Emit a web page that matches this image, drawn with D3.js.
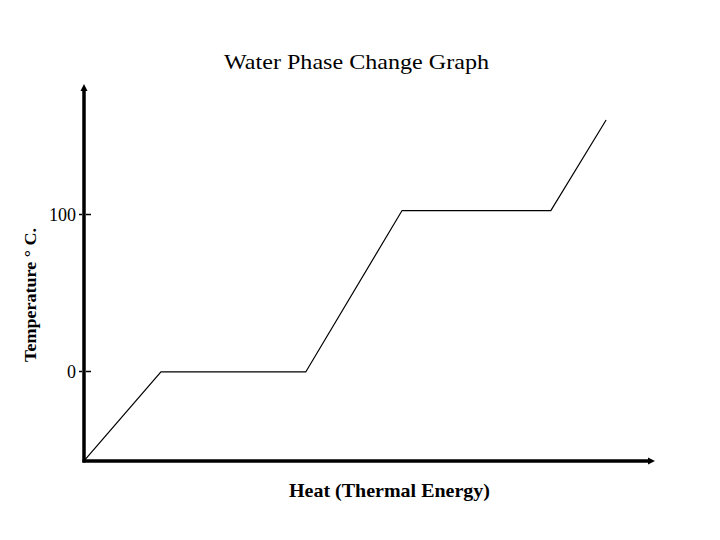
<!DOCTYPE html>
<html><head><meta charset="utf-8">
<script src="https://cdn.jsdelivr.net/npm/d3@7"></script>
<style>body{margin:0;background:#fff}</style>
</head><body>
<script>
const title = "Water Phase Change Graph";
const xLabel = "Heat (Thermal Energy)";
const yLabel = "Temperature ° C.";
const heat = [0, 13.5, 38.9, 55.8, 81.9, 91.6];
const temperature = [-57.3, -0.6, -0.6, 102.2, 102.2, 159.9];
const yTicks = [0, 100];

const W = 720, H = 540;
const serif = "Liberation Serif, Times New Roman, serif";
const svg = d3.select("body").append("svg").attr("width", W).attr("height", H);
const ox = 84, oy = 461;
const x = d3.scaleLinear().domain([0, 100]).range([ox, 654]);
const y = d3.scaleLinear().domain([0, 100]).range([371, 214]);

svg.append("text").attr("x",356.5).attr("y",69).attr("text-anchor","middle")
  .attr("font-family",serif).attr("font-size",22)
  .attr("textLength",265).attr("lengthAdjust","spacingAndGlyphs").text(title);

// data line
const pts = heat.map((h,i)=>[h, temperature[i]]);
svg.append("path").datum(pts)
  .attr("d", d3.line().x(d=>x(d[0])).y(d=>y(d[1])))
  .attr("fill","none").attr("stroke","#000").attr("stroke-width",1.2);

// axes
svg.append("line").attr("x1",ox).attr("y1",oy+1.5).attr("x2",ox).attr("y2",90)
  .attr("stroke","#000").attr("stroke-width",3.5);
svg.append("path").attr("d",`M${ox},84L${ox+3.5},91L${ox-3.5},91Z`).attr("fill","#000");
svg.append("line").attr("x1",ox-1.5).attr("y1",oy).attr("x2",648).attr("y2",oy)
  .attr("stroke","#000").attr("stroke-width",3.5);
svg.append("path").attr("d",`M655,${oy}L648,${oy-3.5}L648,${oy+3.5}Z`).attr("fill","#000");

const ax = svg.append("g").attr("transform",`translate(${ox},0)`)
  .call(d3.axisLeft(y).tickValues(yTicks).tickSize(-13).tickPadding(8).tickFormat(d3.format("d")));
ax.select(".domain").remove();
ax.selectAll(".tick line").attr("stroke-dasharray","3,4,5,10").attr("stroke-width",1.5).attr("transform","translate(-5,0)");
ax.selectAll(".tick text").attr("font-family",serif)
  .attr("font-size",18).attr("fill","#000").attr("dy","0.35em");

svg.append("text").attr("x",389.5).attr("y",497).attr("text-anchor","middle")
  .attr("font-family",serif).attr("font-weight","bold")
  .attr("font-size",19).attr("textLength",201).attr("lengthAdjust","spacingAndGlyphs").text(xLabel);
svg.append("text").attr("transform","translate(36,295) rotate(-90)").attr("text-anchor","middle")
  .attr("font-family",serif).attr("font-weight","bold")
  .attr("font-size",17).attr("textLength",134).attr("lengthAdjust","spacingAndGlyphs").text(yLabel);
</script>
</body></html>
